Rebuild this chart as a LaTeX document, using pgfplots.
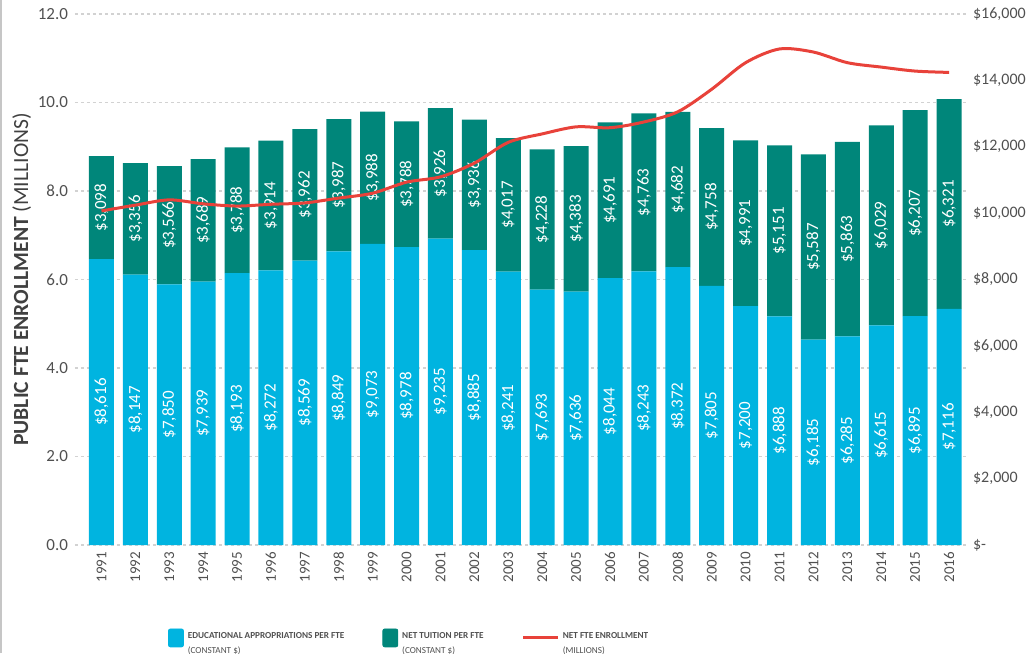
\documentclass[border=0pt]{standalone}
\usepackage{pgfplots}
\pgfplotsset{compat=1.18}
\usepackage{pgfplotstable}
\usepackage{fontspec}
\setmainfont{Carlito}
\definecolor{cblue}{HTML}{00B4E0}
\definecolor{cteal}{HTML}{00867A}
\definecolor{cred}{HTML}{E8423A}
\definecolor{tickgray}{HTML}{505050}
\pgfplotstableread{
x year edu tui enr
0 1991 8616 3098 7.55
1 1992 8147 3356 7.68
2 1993 7850 3566 7.80
3 1994 7939 3689 7.71
4 1995 8193 3788 7.66
5 1996 8272 3914 7.70
6 1997 8569 3962 7.73
7 1998 8849 3987 7.84
8 1999 9073 3988 7.95
9 2000 8978 3788 8.20
10 2001 9235 3926 8.32
11 2002 8885 3936 8.63
12 2003 8241 4017 9.10
13 2004 7693 4228 9.29
14 2005 7636 4383 9.45
15 2006 8044 4691 9.43
16 2007 8243 4763 9.56
17 2008 8372 4682 9.79
18 2009 7805 4758 10.30
19 2010 7200 4991 10.90
20 2011 6888 5151 11.21
21 2012 6185 5587 11.14
22 2013 6285 5863 10.90
23 2014 6615 6029 10.80
24 2015 6895 6207 10.71
25 2016 7116 6321 10.68
}\datatable
\begin{document}
\begin{tikzpicture}
\path[use as bounding box] (-37.5pt,-54pt) rectangle (479pt,272.5pt);
\draw[gray!45, line width=1pt] (-37pt,-54pt) -- (-37pt,272.5pt);
\pgfplotsset{
  base/.style={width=445.5pt, height=265.5pt, scale only axis, at={(0,0)}, anchor=south west,
    xmin=-0.78, xmax=25.5, /pgf/number format/assume math mode=true},
}
% axis 1: grid, left ticks, x ticks
\begin{axis}[base, ymin=0, ymax=12, ytick={0,2,...,12},
  axis line style={draw=none}, major tick length=0pt,
  ymajorgrids, grid style={gray!35, line width=0.6pt, dash pattern=on 1.5pt off 1.5pt},
  yticklabel style={/pgf/number format/fixed, /pgf/number format/fixed zerofill, /pgf/number format/precision=1,
    font=\fontsize{8.5}{10}\selectfont, text=tickgray},
  xtick={0,...,25}, xticklabels from table={\datatable}{year},
  xticklabel style={rotate=90, anchor=east, font=\fontsize{7.5}{9}\selectfont, text=tickgray},
  ylabel={\textbf{PUBLIC FTE ENROLLMENT} (MILLIONS)},
  ylabel style={font=\fontsize{10.8}{12}\selectfont, text=tickgray!80!black, yshift=-3.5pt},
]
\addplot[draw=none] coordinates {(0,0)};
\end{axis}
% axis 2: bars, right ticks
\begin{axis}[base, ybar stacked, bar width=12.5pt, ymin=0, ymax=16000,
  axis y line*=right, hide x axis, axis line style={draw=none}, major tick length=0pt,
  scaled y ticks=false,
  ytick={0,2000,...,16000},
  yticklabels={{\$-},{\$2,000},{\$4,000},{\$6,000},{\$8,000},{\$10,000},{\$12,000},{\$14,000},{\$16,000}},
  yticklabel style={anchor=west, font=\fontsize{8}{10}\selectfont, text=tickgray},
]
\addplot[fill=cblue, draw=none] table[x=x, y=edu] \datatable;
\addplot[fill=cteal, draw=none] table[x=x, y=tui] \datatable;
\end{axis}
% axis 3: labels
\begin{axis}[base, hide axis, ymin=0, ymax=16000,
  point meta=explicit,
  nodes near coords={\$\pgfmathprintnumber[fixed,precision=0,1000 sep={,}]{\pgfplotspointmeta}},
  every node near coord/.append style={rotate=90, anchor=center, text=white, font=\fontsize{8.5}{10}\selectfont, inner sep=0pt},
]
\addplot[draw=none, mark=none] table[x=x, y expr={\thisrow{edu}/2}, meta=edu] \datatable;
\addplot[draw=none, mark=none] table[x=x, y expr={\thisrow{edu}+\thisrow{tui}/2}, meta=tui] \datatable;
\end{axis}
% axis 4: line and legend
\begin{axis}[base, hide axis, ymin=0, ymax=12,
  legend columns=3,
  legend style={at={(0.104,-0.175)}, anchor=west, draw=none, fill=none, inner sep=0pt,
    font=\fontsize{4.6}{7.5}\selectfont, text=tickgray,
    /tikz/every even column/.append style={column sep=17pt}},
  legend cell align=left,
]
\addlegendimage{legend image code/.code={\fill[cblue, rounded corners=1pt] (0,-4.5pt) rectangle (7.5pt,4.5pt);}}
\addlegendentry{\begin{tabular}{@{}l@{}}\textbf{EDUCATIONAL APPROPRIATIONS PER FTE}\\(CONSTANT \$)\end{tabular}}
\addlegendimage{legend image code/.code={\fill[cteal, rounded corners=1pt] (0,-4.5pt) rectangle (7.5pt,4.5pt);}}
\addlegendentry{\begin{tabular}{@{}l@{}}\textbf{NET TUITION PER FTE}\\(CONSTANT \$)\end{tabular}}
\addplot[cred, line width=1.5pt, smooth, tension=0.5, mark=none] table[x=x, y=enr] \datatable;
\addlegendentry{\begin{tabular}{@{}l@{}}\textbf{NET FTE ENROLLMENT}\\(MILLIONS)\end{tabular}}
\end{axis}
\end{tikzpicture}
\end{document}
